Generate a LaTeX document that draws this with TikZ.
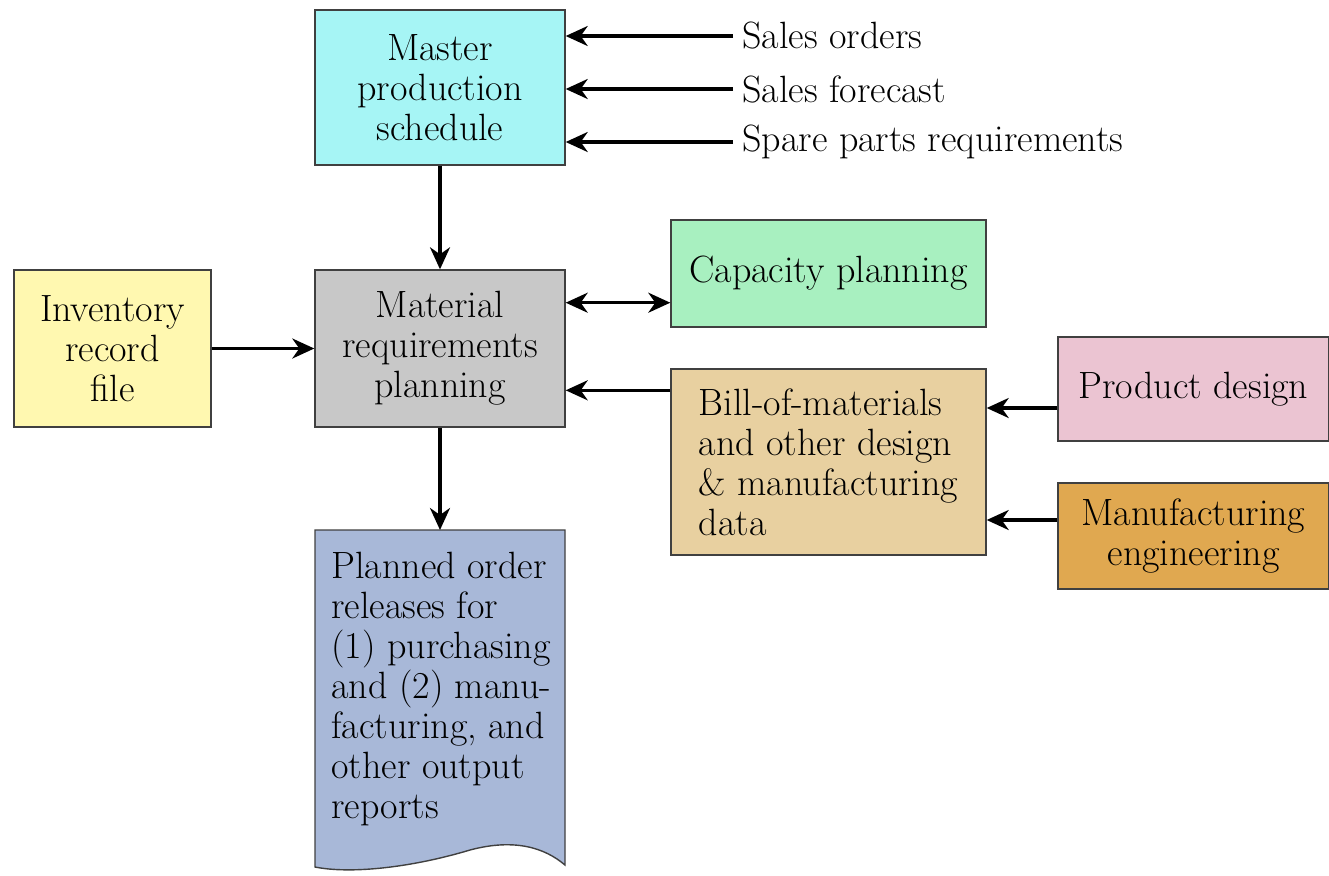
\documentclass[tikz,border=0pt]{standalone}
\usepackage{fontspec}
\usetikzlibrary{arrows.meta}
\definecolor{cmaster}{RGB}{166,245,245}
\definecolor{cmrp}{RGB}{200,200,200}
\definecolor{cinv}{RGB}{255,248,176}
\definecolor{ccap}{RGB}{168,240,192}
\definecolor{cbill}{RGB}{232,208,160}
\definecolor{cprod}{RGB}{235,196,210}
\definecolor{cmfg}{RGB}{224,168,80}
\definecolor{cdoc}{RGB}{168,184,216}
\begin{document}
\begin{tikzpicture}[x=0.5pt,y=-0.5pt,
  box/.style={draw=black!75, line width=0.7pt, inner sep=0pt, align=center,
    font=\fontsize{19}{20}\selectfont},
  lbl/.style={inner ysep=0pt, inner xsep=4.5pt, anchor=west, font=\fontsize{19}{20}\selectfont},
  arr/.style={line width=1.6pt, -{Stealth[length=11pt,width=10pt,inset=3.5pt]}},
  darr/.style={line width=1.6pt, {Stealth[length=11pt,width=10pt,inset=3.5pt]}-{Stealth[length=11pt,width=10pt,inset=3.5pt]}}]
\useasboundingbox (0,0) rectangle (1329,875);
% boxes
\node[box, fill=cmaster, minimum width=125pt, minimum height=77.5pt] (master) at (440,87.5) {Master\\production\\schedule};
\node[box, fill=cmrp, minimum width=125pt, minimum height=78.5pt] (mrp) at (440,348.5) {Material\\requirements\\planning};
\node[box, fill=cinv, minimum width=98.5pt, minimum height=78.5pt] (inv) at (112.5,348.5) {Inventory\\record\\file};
\node[box, fill=ccap, minimum width=157.5pt, minimum height=53.5pt] (cap) at (828.5,273.5) {Capacity planning};
\node[box, fill=cbill, minimum width=157.5pt, minimum height=93pt, align=left] (bill) at (828.5,462) {Bill-of-materials\\and other design\\\&~manufacturing\\data};
\node[box, fill=cprod, minimum width=135.5pt, minimum height=52pt] (prod) at (1193.5,389) {Product design};
\node[box, fill=cmfg, minimum width=135.5pt, minimum height=53pt] (mfg) at (1193.5,536) {Manufacturing\\engineering};
% document shape
\draw[draw=black!75, line width=0.7pt, fill=cdoc] (315,530) -- (565,530) -- (565,865)
  .. controls (545,848) and (515,838) .. (470,850)
  .. controls (410,868) and (350,874) .. (315,867) -- cycle;
\coordinate (doctop) at (440,530);
\node[inner sep=0pt, anchor=north west, align=left, font=\fontsize{19}{20}\selectfont] (doc) at (331,552)
  {Planned order\\releases for\\(1) purchasing\\and (2) manu-\\facturing, and\\other output\\reports};
% labels
\node[lbl] (so) at (733,36) {Sales orders};
\node[lbl] (sf) at (733,89) {Sales forecast};
\node[lbl] (sp) at (733,142) {Spare parts requirements};
% connectors
\draw[arr] (so.west) -- (so.west -| master.east);
\draw[arr] (sf.west) -- (sf.west -| master.east);
\draw[arr] (sp.west) -- (sp.west -| master.east);
\draw[arr] (master.south) -- (mrp.north);
\draw[arr] (inv.east) -- (inv.east -| mrp.west);
\draw[arr] (mrp.south) -- (doctop);
\coordinate (c1) at ([yshift=12.5pt]cap.south west);
\draw[darr] (c1 -| mrp.east) -- (c1);
\coordinate (c2) at ([yshift=-11pt]bill.north west);
\draw[arr] (c2) -- (c2 -| mrp.east);
\coordinate (c3) at ([yshift=-9.5pt]prod.west);
\draw[arr] (c3) -- (c3 -| bill.east);
\coordinate (c4) at ([yshift=8pt]mfg.west);
\draw[arr] (c4) -- (c4 -| bill.east);
\end{tikzpicture}
\end{document}
